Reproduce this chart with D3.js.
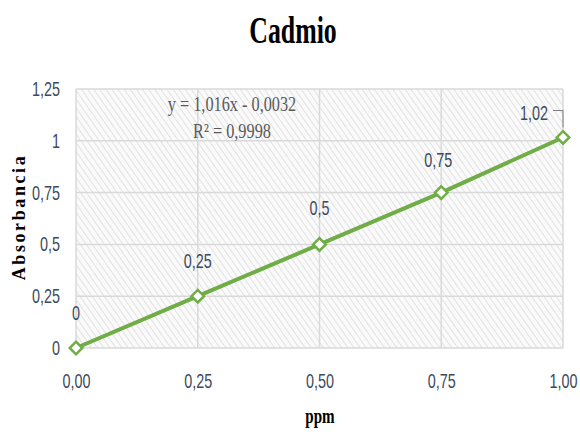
<!DOCTYPE html>
<html><head><meta charset="utf-8">
<script src="https://cdn.jsdelivr.net/npm/d3@7"></script>
<style>body{margin:0;background:#fff}</style>
</head><body>
<script>
const concentrations = [0, 0.25, 0.5, 0.75, 1.0];
const absorbance = [0, 0.25, 0.5, 0.75, 1.016];
const pointLabels = ["0", "0,25", "0,5", "0,75", "1,02"];
const xTicks = [0, 0.25, 0.5, 0.75, 1.0];
const xTickLabels = ["0,00", "0,25", "0,50", "0,75", "1,00"];
const yTicks = [0, 0.25, 0.5, 0.75, 1, 1.25];
const yTickLabels = ["0", "0,25", "0,5", "0,75", "1", "1,25"];
const title = "Cadmio";
const xTitle = "ppm";
const yTitle = "Absorbancia";
const equation = ["y = 1,016x - 0,0032", "R² = 0,9998"];

const W = 580, H = 435;
const svg = d3.select("body").append("svg").attr("width", W).attr("height", H);
const m = {l: 76, r: 17, t: 89, b: 87};
const x = d3.scaleLinear().domain([0, 1]).range([m.l, W - m.r]);
const y = d3.scaleLinear().domain([0, 1.25]).range([H - m.b, m.t]);

const defs = svg.append("defs");
const pat = defs.append("pattern").attr("id", "hatch").attr("patternUnits", "userSpaceOnUse")
  .attr("width", 5).attr("height", 5).attr("patternTransform", "rotate(-35)");
pat.append("rect").attr("width", 5).attr("height", 5).attr("fill", "#fafafa");
pat.append("line").attr("x1", 0).attr("y1", 0).attr("x2", 0).attr("y2", 5)
  .attr("stroke", "#dcdcdc").attr("stroke-width", 1.6);

svg.append("rect").attr("x", m.l).attr("y", m.t).attr("width", W - m.r - m.l).attr("height", H - m.b - m.t)
  .attr("fill", "url(#hatch)");

// grid
svg.append("g").selectAll("line").data(yTicks).join("line")
  .attr("x1", m.l).attr("x2", W - m.r).attr("y1", d => y(d)).attr("y2", d => y(d))
  .attr("stroke", "#d9d9d9").attr("stroke-width", 1.5);
svg.append("g").selectAll("line").data(xTicks).join("line")
  .attr("x1", d => x(d)).attr("x2", d => x(d)).attr("y1", m.t).attr("y2", H - m.b)
  .attr("stroke", "#d9d9d9").attr("stroke-width", 1.5);

const numFont = "'Liberation Sans',Arial,sans-serif";
const serif = "'Liberation Serif','Times New Roman',serif";
const fs = 20, nsx = 0.72, numCol = "#3d4a5c";
// axes
const yAxis = d3.axisLeft(y).tickValues(yTicks).tickSize(0).tickPadding(16)
  .tickFormat((d, i) => yTickLabels[i]);
const gy = svg.append("g").attr("transform", `translate(${m.l},0)`).call(yAxis);
gy.select(".domain").remove();
gy.selectAll("text").attr("font-family", numFont).attr("font-size", fs).attr("fill", numCol)
  .attr("x", -16 / nsx).attr("transform", `scale(${nsx},1)`);

const xAxis = d3.axisBottom(x).tickValues(xTicks).tickSize(0).tickPadding(26)
  .tickFormat((d, i) => xTickLabels[i]);
const gx = svg.append("g").attr("transform", `translate(0,${H - m.b})`).call(xAxis);
gx.select(".domain").remove();
gx.selectAll("text").attr("font-family", numFont).attr("font-size", fs).attr("fill", numCol)
  .attr("transform", `scale(${nsx},1)`);

// line
const pts = concentrations.map((c, i) => ({c, a: absorbance[i], l: pointLabels[i]}));
svg.append("path").datum(pts)
  .attr("d", d3.line().x(d => x(d.c)).y(d => y(d.a)))
  .attr("fill", "none").attr("stroke", "#70ad47").attr("stroke-width", 4);
svg.append("g").selectAll("path").data(pts).join("path")
  .attr("d", d3.symbol(d3.symbolDiamond2, 100))
  .attr("transform", d => `translate(${x(d.c)},${y(d.a)})`)
  .attr("fill", "#ffffff").attr("stroke", "#70ad47").attr("stroke-width", 2.5);

// data labels
const offs = [[0, -28], [0, -28], [0, -29], [-3, -26], [-29, -17]];
svg.append("g").selectAll("text").data(pts).join("text")
  .attr("transform", (d, i) => `translate(${x(d.c) + offs[i][0]},${y(d.a) + offs[i][1]}) scale(${nsx},1)`)
  .attr("text-anchor", "middle").attr("font-family", numFont).attr("font-size", fs)
  .attr("fill", numCol).text(d => d.l);
// leader line for last label
const last = pts[pts.length - 1];
svg.append("path")
  .attr("d", `M${x(last.c) - 10},${y(last.a) - 27} H${x(last.c)} V${y(last.a) - 10}`)
  .attr("fill", "none").attr("stroke", "#808080").attr("stroke-width", 1);

function sText(tx, ty, sx, txt) {
  return svg.append("text").attr("transform", `translate(${tx},${ty}) scale(${sx},1)`)
    .attr("text-anchor", "middle").text(txt);
}
// equation
sText(232, 111, 0.74, equation[0]).attr("font-family", serif).attr("font-size", 22).attr("fill", "#595959");
sText(232, 138, 0.74, equation[1]).attr("font-family", serif).attr("font-size", 22).attr("fill", "#595959");

// titles
sText(293, 43, 0.68, title).attr("font-family", serif).attr("font-weight", "bold").attr("font-size", 38).attr("fill", "#000");
sText(320, 423, 0.72, xTitle).attr("font-family", serif).attr("font-weight", "bold").attr("font-size", 21).attr("fill", "#000");
svg.append("text").attr("transform", "translate(25,217) rotate(-90)").attr("text-anchor", "middle")
  .attr("font-family", serif).attr("font-weight", "bold").attr("font-size", 18)
  .attr("letter-spacing", 2.6)
  .attr("fill", "#000").text(yTitle);
</script>
</body></html>
